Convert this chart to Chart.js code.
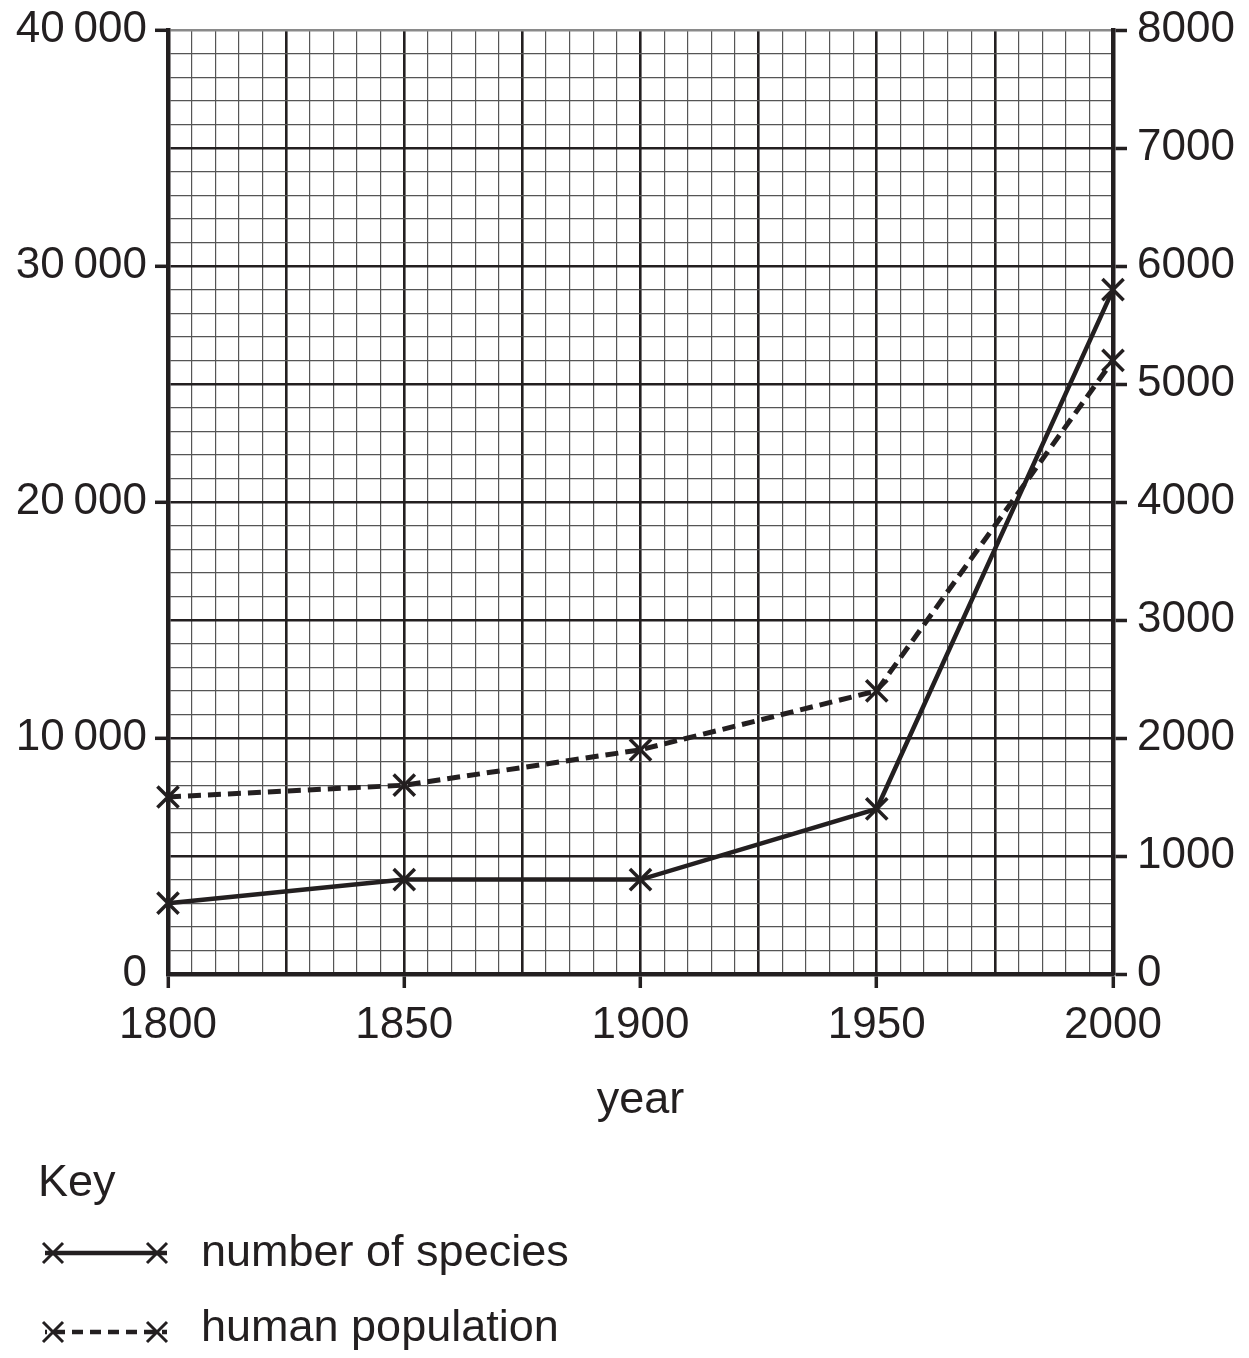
<!DOCTYPE html>
<html>
<head>
<meta charset="utf-8">
<script src="https://cdn.jsdelivr.net/npm/chart.js@4.4.1/dist/chart.umd.min.js"></script>
<style>
  body { margin: 0; background: #fff; }
  #wrap { position: relative; width: 1249px; height: 1358px; }
  #chart { position: absolute; left: 0; top: 0; }
  .txt { position: absolute; font-family: "Liberation Sans", Arial, sans-serif; font-size: 45px; line-height: 52px; color: #231f20; white-space: nowrap; }
  #keySvg { position: absolute; left: 0; top: 1200px; }
</style>
</head>
<body>
<div id="wrap">
  <canvas id="chart" width="1249" height="1358"></canvas>
  <div class="txt" style="left:38px; top:1155px;">Key</div>
  <div class="txt" style="left:201px; top:1225px;">number of species</div>
  <div class="txt" style="left:201px; top:1300px;">human population</div>
  <svg id="keySvg" width="200" height="160" viewBox="0 1200 200 160">
    <g stroke="#231f20" stroke-width="4.5" fill="none">
      <line x1="45" y1="1253" x2="167" y2="1253"/>
      <line x1="45" y1="1332" x2="167" y2="1332" stroke-dasharray="11 7" stroke-dashoffset="-9"/>
    </g>
    <g stroke="#231f20" stroke-width="3">
      <path d="M43 1243 L63 1263 M63 1243 L43 1263"/>
      <path d="M147 1243 L167 1263 M167 1243 L147 1263"/>
      <path d="M43 1322 L63 1342 M63 1322 L43 1342"/>
      <path d="M147 1322 L167 1342 M167 1322 L147 1342"/>
    </g>
  </svg>
</div>
<script>
// values
var years = [1800, 1850, 1900, 1950, 2000];
var species = [3000, 4000, 4000, 7000, 29000];      // left axis
var population = [1500, 1600, 1900, 2400, 5200];    // right axis

var xLabelYears = [1800, 1850, 1900, 1950, 2000];
var leftLabels = [0, 10000, 20000, 30000, 40000];
var rightLabels = [0, 1000, 2000, 3000, 4000, 5000, 6000, 7000, 8000];

var INK = '#231f20';
var MINOR = '#555555';
var tickFont = { family: '"Liberation Sans", Arial, sans-serif', size: 44 };

function pts(vals) {
    return years.map(function (y, i) { return { x: y, y: vals[i] }; });
}

// dark lines every 25 years / 5000, thin ones in between
function gridColor(major, top) {
    return function (c) {
        if (top !== undefined && c.tick.value === top) return '#8a8a8a';
        return c.tick.value % major === 0 ? INK : MINOR;
    };
}
function gridWidth(major) {
    return function (c) { return c.tick.value % major === 0 ? 2.6 : 1.2; };
}
function noPad(s) { s.paddingTop = 0; s.paddingBottom = 0; }

var ctx = document.getElementById('chart').getContext('2d');

var chart = new Chart(ctx, {
    type: 'line',
    data: {
        datasets: [
            {
                label: 'number of species',
                data: pts(species),
                yAxisID: 'y',
                borderColor: INK,
                borderWidth: 4.5,
                pointStyle: 'crossRot',
                pointRadius: 15,
                pointBorderWidth: 3.5,
                pointBorderColor: INK,
                clip: false
            },
            {
                label: 'human population',
                data: pts(population),
                yAxisID: 'y2',
                borderColor: INK,
                borderWidth: 5,
                borderDash: [13, 7],
                pointStyle: 'crossRot',
                pointRadius: 15,
                pointBorderWidth: 3.5,
                pointBorderColor: INK,
                clip: false
            }
        ]
    },
    options: {
        responsive: false,
        animation: false,
        layout: { padding: { top: 30, left: 0, right: 0, bottom: 224 } },
        plugins: { legend: { display: false }, tooltip: { enabled: false } },
        scales: {
            x: {
                type: 'linear',
                min: 1800,
                max: 2000,
                ticks: {
                    stepSize: 5,
                    autoSkip: false,
                    maxRotation: 0,
                    padding: 11,
                    color: INK,
                    font: tickFont,
                    callback: function (v) { return xLabelYears.indexOf(v) >= 0 ? String(v) : ''; }
                },
                grid: {
                    color: gridColor(25),
                    lineWidth: gridWidth(25),
                    tickLength: 14,
                    tickWidth: 3.5,
                    tickColor: function (c) { return xLabelYears.indexOf(c.tick.value) >= 0 ? INK : 'rgba(0,0,0,0)'; }
                },
                border: { color: INK, width: 4.5 },
                title: {
                    display: true,
                    text: 'year',
                    color: INK,
                    font: { family: '"Liberation Sans", Arial, sans-serif', size: 45 },
                    padding: { top: 0, bottom: 6 }
                },
                afterFit: function (s) { s.height = 160; }
            },
            y: {
                type: 'linear',
                position: 'left',
                min: 0,
                max: 40000,
                ticks: {
                    stepSize: 1000,
                    autoSkip: false,
                    padding: 8,
                    color: INK,
                    font: tickFont,
                    callback: function (v) {
                        if (leftLabels.indexOf(v) < 0) return '';
                        return v === 0 ? '0' : (v / 1000) + '\u2009000';
                    }
                },
                grid: {
                    color: gridColor(5000, 40000),
                    lineWidth: gridWidth(5000),
                    tickLength: 13,
                    tickWidth: 3.5,
                    tickColor: function (c) { return leftLabels.indexOf(c.tick.value) >= 0 && c.tick.value !== 0 ? INK : 'rgba(0,0,0,0)'; }
                },
                border: { color: INK, width: 4.5 },
                afterFit: function (s) { s.width = 168; noPad(s); }
            },
            y2: {
                type: 'linear',
                position: 'right',
                min: 0,
                max: 8000,
                ticks: {
                    stepSize: 1000,
                    autoSkip: false,
                    padding: 10,
                    color: INK,
                    font: tickFont,
                    callback: function (v) { return rightLabels.indexOf(v) >= 0 ? String(v) : ''; }
                },
                grid: {
                    drawOnChartArea: false,
                    tickLength: 14,
                    tickWidth: 3.5,
                    tickColor: INK
                },
                border: { color: INK, width: 4.5 },
                afterFit: function (s) { s.width = 136; noPad(s); }
            }
        }
    }
});
</script>
</body>
</html>
